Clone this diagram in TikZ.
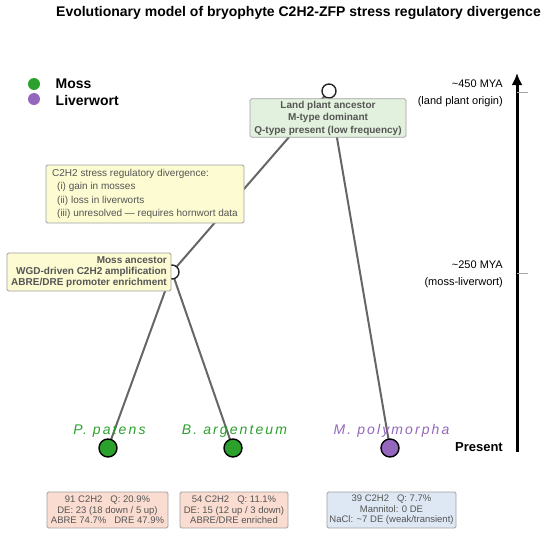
\documentclass[tikz,border=0pt]{standalone}
\usepackage{fontspec}
\setmainfont{Liberation Sans}
\newfontfamily\spfont[LetterSpace=15]{Liberation Sans}
\usetikzlibrary{arrows.meta}
\definecolor{mossg}{HTML}{2CA02C}
\definecolor{livp}{HTML}{9467BD}
\definecolor{edgegray}{HTML}{666666}
\definecolor{txtgray}{HTML}{555555}
\definecolor{boxgreen}{HTML}{E2F1DD}
\definecolor{boxyellow}{HTML}{FDFBD2}
\definecolor{boxpink}{HTML}{FADCD0}
\definecolor{boxblue}{HTML}{DEE8F4}
\definecolor{boxborder}{HTML}{A0A0A0}
\pgfdeclarelayer{bg}
\pgfsetlayers{bg,main}
\tikzset{
  box/.style={draw=boxborder, line width=0.8pt, rounded corners=1.5pt, inner sep=2pt, text=txtgray},
  edgeline/.style={draw=edgegray, line width=2pt},
  ancnode/.style={circle, draw=black!85, line width=1.4pt, fill=white, minimum size=14pt, inner sep=0pt},
  tipnode/.style={circle, draw=black, line width=1.4pt, minimum size=18pt, inner sep=0pt},
  legdot/.style={circle, minimum size=12pt, inner sep=0pt},
  legtext/.style={anchor=west, inner sep=0pt, font=\bfseries\fontsize{14}{16}\selectfont},
  sptext/.style={inner sep=0pt, font=\spfont\itshape\fontsize{14}{16}\selectfont},
  axlabel/.style={anchor=east, inner sep=0pt, font=\fontsize{11}{13}\selectfont},
  statbox/.style={box, minimum height=36pt, align=center, font=\fontsize{9.5}{10.5}\selectfont},
  ticks/.style={draw=gray!70, line width=0.8pt},
}
\begin{document}
\begin{tikzpicture}[x=1pt,y=-1pt]
\useasboundingbox (0,0) rectangle (550,536);
% title
\node[font=\bfseries\fontsize{14}{16}\selectfont] (title) at (298.5,13) {Evolutionary model of bryophyte C2H2-ZFP stress regulatory divergence};
% legend
\node[legdot, fill=mossg] (lgm) at (34,84) {};
\node[legtext] (lgmt) at (55.5,84) {Moss};
\node[legdot, fill=livp] (lgl) at (34,99) {};
\node[legtext] (lglt) at (55.5,100) {Liverwort};
% tree nodes
\node[ancnode] (root) at (329,91) {};
\node[ancnode] (mossanc) at (172,272) {};
\node[tipnode, fill=mossg] (pp) at (108,448) {};
\node[tipnode, fill=mossg] (ba) at (233,448) {};
\node[tipnode, fill=livp] (mp) at (390,448) {};
\begin{pgfonlayer}{bg}
\draw[edgeline] (root.center) -- (mossanc.center);
\draw[edgeline] (root.center) -- (mp.center);
\draw[edgeline] (mossanc.center) -- (pp.center);
\draw[edgeline] (mossanc.center) -- (ba.center);
\end{pgfonlayer}
% boxes
\node[box, fill=boxgreen, minimum width=156pt, minimum height=38pt, align=center, font=\bfseries\fontsize{10}{12.5}\selectfont] (landbox) at (328,118) {Land plant ancestor\\M-type dominant\\Q-type present (low frequency)};
\node[box, fill=boxyellow, minimum width=198pt, minimum height=58pt, align=left, font=\fontsize{10}{13.3}\selectfont] (divbox) at (145,194) {C2H2 stress regulatory divergence:\\\hspace*{5pt}(i) gain in mosses\\\hspace*{5pt}(ii) loss in liverworts\\\hspace*{5pt}(iii) unresolved --- requires hornwort data};
\node[box, fill=boxyellow, minimum width=164pt, minimum height=38pt, align=right, font=\bfseries\fontsize{10}{11.2}\selectfont] (mossbox) at (89,272) {Moss ancestor\\WGD-driven C2H2 amplification\\ABRE/DRE promoter enrichment};
% species labels
\node[sptext, text=mossg] (ppl) at (109.5,431) {P. patens};
\node[sptext, text=mossg] (bal) at (234.5,431) {B. argenteum};
\node[sptext, text=livp] (mpl) at (391.5,431) {M. polymorpha};
% stat boxes
\node[statbox, fill=boxpink, minimum width=121pt] (ppbox) at (107.5,510) {91 C2H2\hspace{8pt}Q: 20.9\%\\DE: 23 (18 down / 5 up)\\ABRE 74.7\%\hspace{8pt}DRE 47.9\%};
\node[statbox, fill=boxpink, minimum width=108pt] (babox) at (234,510) {54 C2H2\hspace{8pt}Q: 11.1\%\\DE: 15 (12 up / 3 down)\\ABRE/DRE enriched};
\node[statbox, fill=boxblue, minimum width=129pt] (mpbox) at (391.5,510) {39 C2H2\hspace{8pt}Q: 7.7\%\\Mannitol: 0 DE\\NaCl: \textasciitilde7 DE (weak/transient)};
% time axis
\coordinate (axbot) at (517,452);
\coordinate (axtop) at (517,73);
\draw[line width=3pt, -{Latex[length=12pt,width=11pt]}] (axbot) -- (axtop);
\coordinate (t1a) at (517,92);
\coordinate (t1b) at (528,92);
\coordinate (t2a) at (517,273);
\coordinate (t2b) at (528,273);
\draw[ticks] (t1a) -- (t1b);
\draw[ticks] (t2a) -- (t2b);
\node[axlabel] (a450) at (503,84) {\textasciitilde450 MYA};
\node[axlabel] (a450b) at (503,102) {(land plant origin)};
\node[axlabel] (a250) at (503,265) {\textasciitilde250 MYA};
\node[axlabel] (a250b) at (503,283) {(moss-liverwort)};
\node[axlabel, font=\bfseries\fontsize{13}{15}\selectfont] (present) at (503,447) {Present};
\end{tikzpicture}
\end{document}
